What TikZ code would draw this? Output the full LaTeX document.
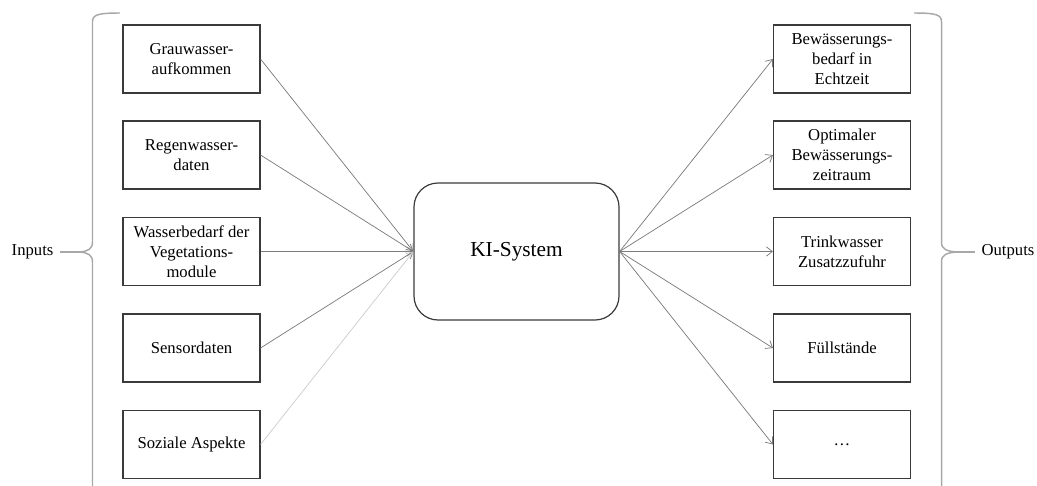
\documentclass[tikz,border=0pt]{standalone}
\usepackage{fontspec}
\IfFontExistsTF{LiberationSerif-Regular.ttf}
  {\setmainfont{LiberationSerif-Regular.ttf}}
  {\setmainfont{Liberation Serif}}
\usetikzlibrary{arrows.meta}
\definecolor{boxline}{HTML}{3A3A3A}
\definecolor{arrowgray}{HTML}{7C7C7C}
\definecolor{lightarrow}{HTML}{CDCDCD}
\definecolor{bracegray}{HTML}{A8A8A8}
\tikzset{
  inbox/.style={draw=boxline, line width=0.8pt, minimum width=102.75pt, minimum height=51pt,
    inner sep=1pt, align=center, font=\fontsize{12.5}{15}\selectfont},
  kibox/.style={draw=boxline, line width=0.9pt, rounded corners=18pt, minimum width=153.75pt,
    minimum height=102.75pt, font=\fontsize{16}{19}\selectfont},
  conn/.style={draw=arrowgray, line width=0.55pt, -{Straight Barb[length=4.5pt,width=7pt]}},
  lightconn/.style={conn, draw=lightarrow},
  bracestyle/.style={draw=bracegray, line width=1.1pt},
  lbl/.style={font=\fontsize{12.5}{15}\selectfont, inner sep=1pt}
}
\begin{document}
\begin{tikzpicture}[x=0.75pt, y=-0.75pt]
\useasboundingbox (0,0) rectangle (1037,485);
\clip (0,0) rectangle (1037,485);

% input boxes
\node[inbox] (i1) at (191.5,59) {Grauwasser-\\aufkommen};
\node[inbox] (i2) at (191.5,155) {Regenwasser-\\daten};
\node[inbox] (i3) at (191.5,251.5) {Wasserbedarf der\\Vegetations-\\module};
\node[inbox] (i4) at (191.5,348) {Sensordaten};
\node[inbox] (i5) at (191.5,444.5) {Soziale Aspekte};

% output boxes
\node[inbox] (o1) at (842,59) {Bewässerungs-\\bedarf in\\Echtzeit};
\node[inbox] (o2) at (842,155) {Optimaler\\Bewässerungs-\\zeitraum};
\node[inbox] (o3) at (842,251.5) {Trinkwasser\\Zusatzzufuhr};
\node[inbox] (o4) at (842,348) {Füllstände};
\node[inbox] (o5) at (842,444.5) {\dots};

% central box
\node[kibox] (ki) at (516.5,251.5) {KI-System};

% connectors
\draw[conn] (i1.east) -- (ki.west);
\draw[conn] (i2.east) -- (ki.west);
\draw[conn] (i3.east) -- (ki.west);
\draw[conn] (i4.east) -- (ki.west);
\draw[lightconn] (i5.east) -- (ki.west);
\draw[conn] (ki.east) -- (o1.west);
\draw[conn] (ki.east) -- (o2.west);
\draw[conn] (ki.east) -- (o3.west);
\draw[conn] (ki.east) -- (o4.west);
\draw[conn] (ki.east) -- (o5.west);

% labels
\node[lbl, anchor=east] (inl) at (55,252) {Inputs};
\node[lbl, anchor=west] (outl) at (980,252) {Outputs};

% braces
\coordinate (ltip) at (79,252);
\coordinate (rtip) at (958,252);
\draw[bracestyle] (120,13) .. controls (97,13) and (92.5,15) .. (92.5,22) -- (92.5,242)
  .. controls (92.5,249) and (88,251.5) .. (ltip)
  .. controls (88,252.5) and (92.5,255) .. (92.5,262) -- (92.5,500);
\draw[bracestyle] (inl.east) ++(5,0) -- (ltip);
\draw[bracestyle] (914,13) .. controls (937,13) and (941.5,15) .. (941.5,22) -- (941.5,242)
  .. controls (941.5,249) and (946,251.5) .. (rtip)
  .. controls (946,252.5) and (941.5,255) .. (941.5,262) -- (941.5,500);
\draw[bracestyle] (rtip) -- ([xshift=-4pt]outl.west);
\end{tikzpicture}
\end{document}
